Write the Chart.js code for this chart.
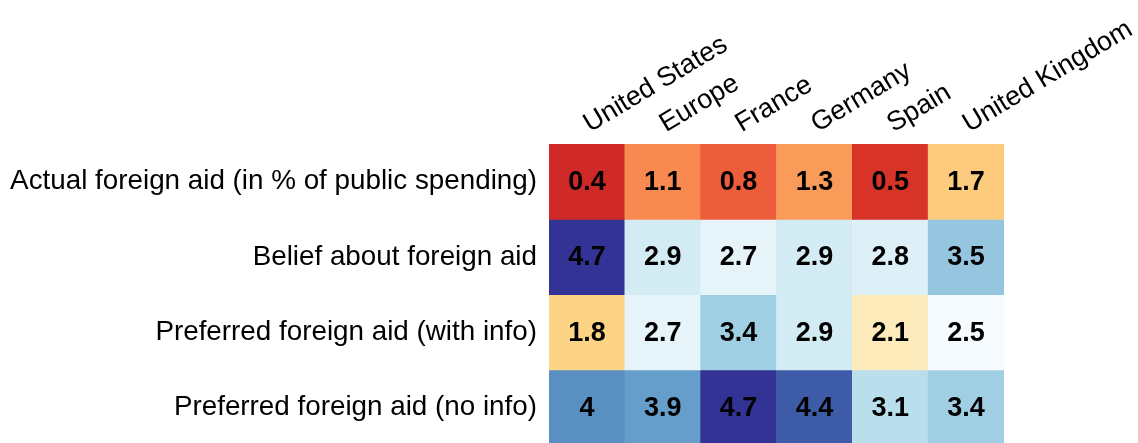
<!DOCTYPE html>
<html lang="en">
<head>
  <meta charset="UTF-8" />
  <title>Foreign aid heatmap</title>
  <script src="https://cdn.jsdelivr.net/npm/chart.js"></script>
  <style>
    body {
      margin: 0;
      background: #ffffff;
    }

    .chart-box {
      position: relative;
      width: 1138px;
      height: 443px;
    }
  </style>
</head>
<body>

  <div class="chart-box">
    <canvas id="aidHeatmap"></canvas>
  </div>

  <script>
    // categories
    const countries = ['United States', 'Europe', 'France', 'Germany', 'Spain', 'United Kingdom'];
    const measures = [
      'Actual foreign aid (in % of public spending)',
      'Belief about foreign aid',
      'Preferred foreign aid (with info)',
      'Preferred foreign aid (no info)'
    ];

    // values, one array per row
    const actualAid = [0.4, 1.1, 0.8, 1.3, 0.5, 1.7];
    const beliefAid = [4.7, 2.9, 2.7, 2.9, 2.8, 3.5];
    const preferredWithInfo = [1.8, 2.7, 3.4, 2.9, 2.1, 2.5];
    const preferredNoInfo = [4, 3.9, 4.7, 4.4, 3.1, 3.4];
    const rows = [actualAid, beliefAid, preferredWithInfo, preferredNoInfo];

    // red -> yellow -> blue colour scale (value, colour)
    const colorStops = [
      [0.4, [207, 41, 39]], [0.5, [216, 51, 40]], [0.8, [236, 93, 59]], [1.1, [248, 137, 80]],
      [1.3, [250, 156, 89]], [1.7, [253, 203, 126]], [1.8, [253, 211, 134]], [2.1, [254, 235, 187]],
      [2.5, [245, 251, 254]], [2.7, [230, 244, 249]], [2.8, [222, 240, 247]], [2.9, [211, 235, 243]],
      [3.1, [184, 223, 235]], [3.4, [160, 207, 228]], [3.5, [150, 198, 223]], [3.9, [101, 158, 202]],
      [4.0, [90, 143, 194]], [4.4, [61, 91, 167]], [4.7, [50, 51, 148]]
    ];

    function colorFor(v) {
      if (v <= colorStops[0][0]) return 'rgb(' + colorStops[0][1].join(',') + ')';
      for (let i = 1; i < colorStops.length; i++) {
        const [v1, c1] = colorStops[i];
        const [v0, c0] = colorStops[i - 1];
        if (v <= v1) {
          const t = (v - v0) / (v1 - v0);
          const c = c0.map((x, k) => Math.round(x + (c1[k] - x) * t));
          return 'rgb(' + c.join(',') + ')';
        }
      }
      return 'rgb(' + colorStops[colorStops.length - 1][1].join(',') + ')';
    }

    const FONT = "'Liberation Sans', Arial, sans-serif";

    // each row is a dataset of floating bars spanning one row of the y scale
    const datasets = rows.map((vals, r) => ({
      label: measures[r],
      values: vals,
      data: vals.map(() => [r - 0.5, r + 0.5]),
      backgroundColor: vals.map(colorFor),
      borderWidth: 0,
      grouped: false,
      barPercentage: 1,
      categoryPercentage: 1
    }));

    // write the value in the middle of each cell
    const cellLabels = {
      id: 'cellLabels',
      afterDatasetsDraw(chart) {
        const ctx = chart.ctx;
        ctx.save();
        ctx.font = 'bold 27px ' + FONT;
        ctx.fillStyle = '#000';
        ctx.textAlign = 'center';
        ctx.textBaseline = 'middle';
        chart.data.datasets.forEach((ds, i) => {
          chart.getDatasetMeta(i).data.forEach((bar, j) => {
            const p = bar.getCenterPoint();
            ctx.fillText(String(ds.values[j]), p.x, p.y + 1);
          });
        });
        ctx.restore();
      }
    };

    // no extra room for the labels at the ends of the axes
    function noEdgePadding(scale) {
      scale.paddingTop = 0;
      scale.paddingBottom = 0;
      scale.paddingLeft = 0;
      scale.paddingRight = 0;
    }

    const ctx = document.getElementById('aidHeatmap').getContext('2d');
    new Chart(ctx, {
      type: 'bar',
      data: { labels: countries, datasets: datasets },
      plugins: [cellLabels],
      options: {
        responsive: true,
        maintainAspectRatio: false,
        animation: false,
        layout: { padding: { left: 0, right: 134, top: 0, bottom: 0 } },
        plugins: {
          legend: { display: false },
          tooltip: { enabled: false }
        },
        scales: {
          x: {
            type: 'category',
            position: 'top',
            grid: { display: false, drawTicks: false },
            border: { display: false },
            ticks: {
              color: '#000',
              font: { family: FONT, size: 27 },
              minRotation: 31,
              maxRotation: 31,
              autoSkip: false,
              padding: 4,
              labelOffset: 16
            },
            afterFit(scale) {
              scale.height = 144;
              noEdgePadding(scale);
            }
          },
          y: {
            type: 'linear',
            reverse: true,
            min: -0.5,
            max: 3.47,
            grid: { display: false, drawTicks: false },
            border: { display: false },
            afterBuildTicks(scale) {
              scale.ticks = measures.map((_, i) => ({ value: i }));
            },
            ticks: {
              color: '#000',
              font: { family: FONT, size: 27.8 },
              padding: 12,
              callback: (v) => measures[v] || ''
            },
            afterFit(scale) {
              scale.width = 549;
              noEdgePadding(scale);
            }
          }
        }
      }
    });
  </script>
</body>
</html>
